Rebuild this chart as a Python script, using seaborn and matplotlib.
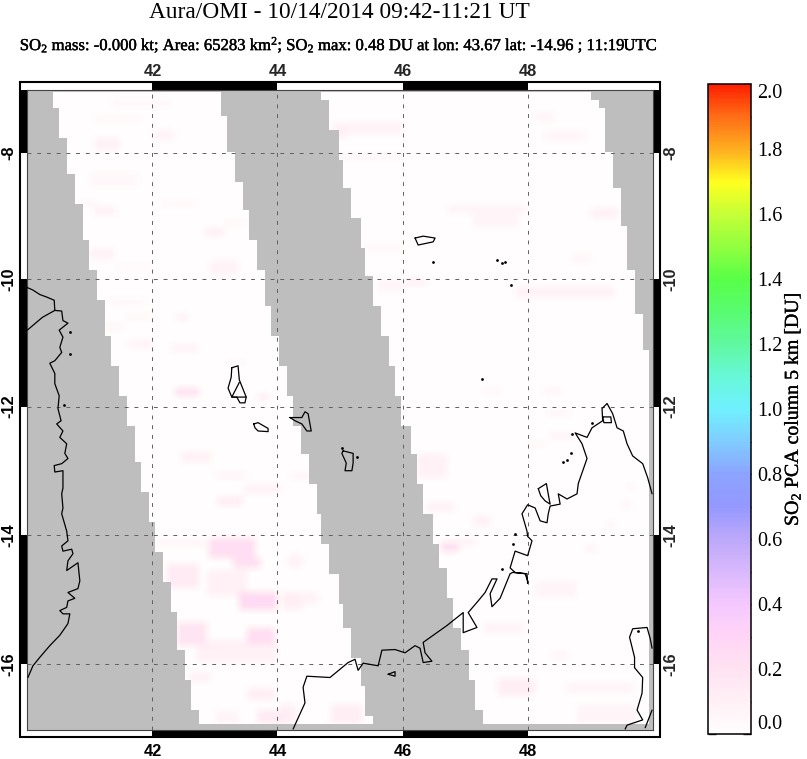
import numpy as np
import seaborn as sns
import matplotlib
matplotlib.use('Agg')
import matplotlib.pyplot as plt
import matplotlib.patheffects as pe
from matplotlib.colors import LinearSegmentedColormap
from matplotlib.patches import Rectangle

# ---------- text ----------
title_text = "Aura/OMI - 10/14/2014 09:42-11:21 UT"
sub_text = ("SO$_2$ mass: -0.000 kt; Area: 65283 km$^2$; SO$_2$ max: 0.48 DU "
            "at lon: 43.67 lat: -14.96 ; 11:19UTC")
cbar_label = "SO$_2$ PCA column 5 km [DU]"
lon_ticks = [42, 44, 46, 48]
lat_ticks = [-8, -10, -12, -14, -16]
cbar_ticks = [0.0, 0.2, 0.4, 0.6, 0.8, 1.0, 1.2, 1.4, 1.6, 1.8, 2.0]
cbar_minor = [0.1, 0.3, 0.5, 0.7, 0.9, 1.1, 1.3, 1.5, 1.7, 1.9]

# ---------- swath edges: southern limit of each step and its longitude ----------
s1_left_lat = [-7.28, -7.75, -8.32, -8.80, -9.37, -9.84, -10.31, -10.88, -11.35, -11.83, -12.30,
               -12.86, -13.33, -13.78, -14.26, -14.72, -15.19, -15.77, -16.23, -16.70, -16.91]
s1_left_lon = [40.43, 40.52, 40.65, 40.78, 40.89, 41.00, 41.11, 41.24, 41.35, 41.47, 41.59,
               41.71, 41.82, 41.95, 42.04, 42.17, 42.30, 42.39, 42.52, 42.62, 42.75]
s1_right_lat = [-7.40, -7.97, -8.45, -8.89, -9.37, -9.84, -10.41, -10.88, -11.35, -11.83, -12.30,
                -12.73, -13.19, -13.67, -14.14, -14.60, -15.06, -15.43, -15.89, -16.32, -16.79, -16.91]
s1_right_lon = [43.10, 43.19, 43.32, 43.45, 43.55, 43.67, 43.80, 43.89, 44.02, 44.14, 44.26,
                44.38, 44.49, 44.62, 44.71, 44.84, 44.97, 45.05, 45.19, 45.32, 45.41, 45.54]
s2_left_lat = [-7.15, -7.62, -8.10, -8.54, -9.02, -9.49, -9.94, -10.41, -10.88, -11.35, -11.83,
               -12.30, -12.73, -13.20, -13.67, -14.14, -14.51, -14.97, -15.43, -15.77, -16.23, -16.70, -16.91]
s2_left_lon = [44.71, 44.84, 44.97, 45.06, 45.19, 45.32, 45.41, 45.54, 45.64, 45.77, 45.89,
               45.99, 46.12, 46.22, 46.34, 46.47, 46.57, 46.70, 46.82, 46.92, 47.05, 47.16, 47.29]
s2_right_lat = [-7.15, -7.28, -7.97, -8.54, -9.14, -9.84, -10.55, -11.10, -16.91]
s2_right_lon = [49.01, 49.14, 49.24, 49.36, 49.49, 49.59, 49.72, 49.84, 49.95]
swath_top = -7.04
swath_bottom = -16.91

# ---------- SO2 enhancements ----------
p_lon0 = [42.9, 43.3, 43.4, 43.5, 42.4, 42.23, 42.87, 42.7, 43.5, 43.67, 43.0, 44.1, 44.15, 42.07, 42.6,
          42.38, 42.38, 41.6, 42.3, 43.67, 42.45, 43.05, 43.45, 43.0, 41.25, 41.55, 41.3, 43.15, 44.2,
          41.1, 41.1, 42.0, 41.35, 41.0, 40.85, 41.05, 42.1, 42.85, 43.15, 41.0, 42.9, 41.4, 44.9, 44.9, 45.0, 45.4, 45.6,
          46.7, 47.13, 49.0, 46.0, 47.8, 48.25, 48.1, 48.7,
          46.23, 46.35, 47.13, 46.6, 46.9, 48.9, 49.25, 47.25, 48.25, 48.3, 48.0, 48.35, 49.6, 49.5,
          47.5, 48.6, 48.8, 48.1, 47.3, 48.35, 44.85, 44.05, 44.05]
p_lon1 = [43.65, 43.75, 44.0, 43.95, 42.87, 42.75, 43.5, 44.0, 43.95, 44.15, 43.4, 44.4, 44.4, 42.87, 42.95,
          42.75, 42.6, 42.0, 42.75, 43.88, 42.95, 43.45, 44.1, 43.5, 41.55, 42.0, 41.9, 43.5, 44.6,
          41.48, 41.85, 42.35, 42.3, 41.8, 41.1, 41.45, 42.7, 43.15, 43.5, 41.4, 43.4, 42.0, 46.0, 45.1, 46.0, 46.0, 46.0,
          48.0, 47.87, 49.47, 46.4, 49.4, 48.95, 48.45, 49.0,
          46.7, 46.85, 47.4, 46.9, 47.2, 49.1, 49.4, 47.6, 48.55, 48.7, 48.3, 48.75, 49.7, 49.65,
          48.1, 49.7, 49.75, 48.8, 47.95, 48.7, 45.37, 44.65, 44.3]
p_lat0 = [-14.05, -14.35, -14.87, -15.42, -15.33, -14.45, -14.55, -15.63, -16.35, -16.7, -16.7, -14.87, -14.3, -14.05, -16.1,
          -11.7, -10.53, -10.96, -11.0, -11.8, -12.7, -13.4, -13.2, -13.0, -10.7, -10.55, -10.3, -11.25, -13.0,
          -7.75, -7.42, -7.65, -7.12, -8.3, -8.75, -8.85, -8.75, -9.2, -9.05, -9.5, -9.7, -9.75, -7.5, -7.6, -8.0, -9.45, -10.0,
          -8.82, -8.95, -8.87, -10.0, -10.1, -7.65, -7.35, -9.6,
          -12.73, -13.47, -13.7, -14.1, -14.03, -14.15, -13.78, -11.7, -11.7, -12.05, -12.55, -12.4, -13.2, -13.45,
          -16.2, -16.25, -16.6, -14.7, -15.33, -15.8, -16.6, -14.87, -16.6]
p_lat1 = [-14.35, -14.5, -15.17, -15.67, -15.72, -14.82, -14.95, -15.95, -16.55, -16.9, -16.9, -15.15, -14.5, -14.15, -16.25,
          -11.83, -10.65, -11.06, -11.15, -11.9, -12.85, -13.55, -13.35, -13.1, -10.8, -10.65, -10.4, -11.32, -13.15,
          -7.95, -7.5, -7.78, -7.28, -8.55, -8.85, -9.0, -8.85, -9.3, -9.15, -9.7, -9.95, -9.85, -7.7, -7.75, -8.1, -9.55, -10.2,
          -8.95, -9.17, -9.02, -10.08, -10.28, -7.82, -7.5, -9.75,
          -13.1, -13.65, -13.85, -14.25, -14.15, -14.25, -13.9, -11.8, -11.8, -12.15, -12.62, -12.5, -13.3, -13.6,
          -16.47, -16.45, -16.9, -14.97, -15.53, -15.9, -16.9, -15.07, -16.9]
p_val = [0.24, 0.22, 0.26, 0.24, 0.18, 0.14, 0.10, 0.10, 0.12, 0.14, 0.07, 0.11, 0.08, 0.06, 0.09,
         0.22, 0.12, 0.08, 0.08, 0.14, 0.10, 0.12, 0.08, 0.08, 0.08, 0.06, 0.05, 0.06, 0.06,
         0.10, 0.06, 0.08, 0.04, 0.04, 0.07, 0.08, 0.06, 0.12, 0.06, 0.08, 0.08, 0.05, 0.08, 0.11, 0.07, 0.06, 0.07,
         0.07, 0.07, 0.10, 0.16, 0.08, 0.06, 0.07, 0.06,
         0.10, 0.08, 0.10, 0.22, 0.08, 0.10, 0.10, 0.06, 0.08, 0.07, 0.08, 0.07, 0.08, 0.06,
         0.11, 0.07, 0.07, 0.07, 0.07, 0.08, 0.11, 0.08, 0.10]

# ---------- coastlines ----------
africa_lon = [40.00, 40.09, 40.20, 40.31, 40.43, 40.44, 40.55, 40.57, 40.65, 40.51, 40.57, 40.52, 40.55, 40.44, 40.36,
              40.44, 40.44, 40.51, 40.49, 40.54, 40.47, 40.57, 40.52, 40.63, 40.60, 40.65, 40.55, 40.43, 40.44, 40.57,
              40.57, 40.55, 40.57, 40.55, 40.63, 40.65, 40.55, 40.57, 40.71, 40.73, 40.65, 40.63, 40.81, 40.84, 40.81,
              40.65, 40.76, 40.65, 40.63, 40.52, 40.57, 40.68, 40.65, 40.52, 40.36, 40.20, 40.09, 40.01]
africa_lat = [-10.13, -10.17, -10.24, -10.28, -10.33, -10.49, -10.50, -10.65, -10.69, -10.80, -10.91, -11.07, -11.15, -11.28, -11.32,
              -11.48, -11.64, -11.83, -12.03, -12.22, -12.27, -12.38, -12.48, -12.58, -12.73, -12.81, -12.89, -12.92, -13.02, -13.00,
              -13.27, -13.36, -13.58, -13.67, -13.94, -14.09, -14.17, -14.25, -14.22, -14.29, -14.40, -14.55, -14.43, -14.71, -14.83,
              -14.89, -14.98, -15.02, -15.12, -15.17, -15.22, -15.22, -15.37, -15.55, -15.71, -15.89, -16.02, -16.20]
border_lon = [40.44, 40.24, 40.00]
border_lat = [-10.49, -10.60, -10.80]
grande_lon = [43.27, 43.37, 43.39, 43.50, 43.48, 43.40, 43.35, 43.27, 43.21, 43.26, 43.27]
grande_lat = [-11.39, -11.36, -11.58, -11.85, -11.94, -11.94, -11.85, -11.85, -11.71, -11.54, -11.39]
inner_lon = [43.39, 43.27, 43.50]
inner_lat = [-11.62, -11.85, -11.85]
moheli_lon = [43.62, 43.69, 43.85, 43.85, 43.69, 43.64, 43.62]
moheli_lat = [-12.27, -12.25, -12.34, -12.39, -12.38, -12.33, -12.27]
anjouan_lon = [44.20, 44.39, 44.44, 44.49, 44.54, 44.47, 44.39, 44.28, 44.20]
anjouan_lat = [-12.17, -12.17, -12.08, -12.11, -12.38, -12.38, -12.27, -12.22, -12.17]
mayotte_lon = [45.05, 45.21, 45.21, 45.19, 45.08, 45.10, 45.03, 45.05]
mayotte_lat = [-12.69, -12.73, -12.88, -13.00, -13.00, -12.88, -12.73, -12.69]
aldabra_lon = [46.20, 46.33, 46.52, 46.49, 46.25, 46.20]
aldabra_lat = [-9.35, -9.32, -9.35, -9.41, -9.46, -9.35]
madag_lon = [49.99, 49.92, 49.84, 49.68, 49.59, 49.53, 49.43, 49.36, 49.27, 49.19, 49.20, 49.03, 48.95, 48.76, 48.87,
             48.95, 48.81, 48.79, 48.63, 48.49, 48.52, 48.36, 48.33, 48.31, 48.20, 48.12, 48.00, 47.91, 47.99, 48.00,
             48.07, 48.00, 47.80, 47.72, 47.80, 47.96, 48.00, 48.00, 47.99, 47.76, 47.72, 47.56, 47.43, 47.40, 47.51,
             47.43, 47.32, 47.21, 47.05, 47.19, 46.97, 46.97, 46.71, 46.33, 46.36, 46.47, 46.33, 46.28, 46.20, 46.04,
             45.88, 45.67, 45.61, 45.37, 45.29, 45.24, 45.13, 44.84, 44.47, 44.41, 44.44, 44.25]
madag_lat = [-13.36, -13.11, -12.89, -12.77, -12.58, -12.38, -12.33, -12.11, -11.95, -12.03, -12.22, -12.33, -12.48, -12.41, -12.58,
             -12.81, -13.20, -13.36, -13.44, -13.36, -13.52, -13.55, -13.67, -13.81, -13.78, -13.58, -13.53, -13.67, -13.94, -14.02,
             -14.09, -14.32, -14.25, -14.51, -14.58, -14.60, -14.71, -14.75, -14.60, -14.58, -14.60, -14.98, -15.11, -14.91, -14.68,
             -14.68, -14.89, -15.02, -15.20, -15.43, -15.51, -15.20, -15.40, -15.66, -15.82, -15.95, -15.97, -15.75, -15.71, -15.82,
             -15.77, -15.78, -16.02, -15.98, -16.09, -15.92, -15.97, -16.20, -16.18, -16.35, -16.59, -16.99]
ring_lon = [48.17, 48.30, 48.34, 48.36, 48.28, 48.21, 48.17]
ring_lat = [-13.28, -13.20, -13.42, -13.52, -13.47, -13.39, -13.28]
tip_lon = [49.20, 49.33, 49.34, 49.22, 49.20]
tip_lat = [-12.16, -12.16, -12.25, -12.25, -12.16]
nosy_lon = [45.77, 45.88, 45.88, 45.77]
nosy_lat = [-16.15, -16.11, -16.18, -16.15]
east_lon = [49.99, 49.96, 49.91, 49.68, 49.63, 49.71, 49.71, 49.84, 49.83, 49.75, 49.84, 49.59, 49.56]
east_lat = [-15.75, -15.60, -15.43, -15.45, -15.58, -15.89, -16.05, -16.20, -16.44, -16.70, -16.85, -16.93, -16.99]
east2_lon = [49.99, 49.88]
east2_lat = [-16.70, -16.97]
dots_lon = [45.03, 45.27, 46.49, 47.51, 47.59, 47.64, 47.73, 47.27, 48.57, 48.63, 48.70, 48.71, 49.03,
            47.80, 47.76, 47.59, 40.68, 40.68, 40.59, 49.76]
dots_lat = [-12.64, -12.78, -9.73, -9.70, -9.75, -9.73, -10.09, -11.56, -12.87, -12.84, -12.73, -12.42, -12.25,
            -13.98, -14.14, -14.52, -10.83, -11.17, -11.98, -15.48]

# ---------- colour scale ----------
cs_val = [0.0, 0.1, 0.2, 0.3, 0.4, 0.5, 0.6, 0.7, 0.8, 0.9, 1.0, 1.1, 1.2, 1.3, 1.4, 1.5, 1.6, 1.7, 1.8, 1.9, 2.0]
cs_col = ['#FFFDFD', '#FFF0F5', '#FFE2F2', '#FFD4F6', '#F4C8FF', '#D8B8FC', '#BCA8FA', '#9498FF', '#8CA4FF',
          '#80CCFF', '#70F0FF', '#68F8D8', '#60F8A0', '#58FC70', '#58FF48', '#90FF40', '#C4FF38',
          '#FFFF20', '#FFB020', '#FF7018', '#FF2000']

W, H = 807, 759
sns.set_theme(style='white')
plt.rcParams['font.family'] = ['Liberation Serif', 'DejaVu Sans']
plt.rcParams['mathtext.fontset'] = 'custom'
plt.rcParams['mathtext.rm'] = 'Liberation Serif'
plt.rcParams['mathtext.it'] = 'Liberation Serif'
plt.rcParams['mathtext.bf'] = 'Liberation Serif:bold'

nx, ny = 313, 320
lon_min, lon_max, lat_top, lat_bot = 40.0, 50.0, -7.0, -17.0


def merc(lat):
    return np.log(np.tan(np.pi / 4 + np.radians(lat) / 2))


def to_x(lon):
    return (np.asarray(lon, float) - lon_min) / (lon_max - lon_min) * nx


def to_y(lat):
    return (merc(lat_top) - merc(np.asarray(lat, float))) / (merc(lat_top) - merc(lat_bot)) * ny


col_lon = lon_min + (np.arange(nx) + 0.5) / nx * (lon_max - lon_min)
row_idx = np.arange(ny) + 0.5
m_row = merc(lat_top) - row_idx / ny * (merc(lat_top) - merc(lat_bot))
row_lat = np.degrees(2 * (np.arctan(np.exp(m_row)) - np.pi / 4))


def edge(lat_steps, lon_steps):
    i = np.searchsorted(-np.asarray(lat_steps), -row_lat)
    return np.asarray(lon_steps)[np.clip(i, 0, len(lon_steps) - 1)]


grid = np.zeros((ny, nx))
for a, b, c, d, v in zip(p_lon0, p_lon1, p_lat0, p_lat1, p_val):
    sel_c = (col_lon >= a) & (col_lon <= b)
    sel_r = (row_lat <= c) & (row_lat >= d)
    grid[np.ix_(sel_r, sel_c)] = np.maximum(grid[np.ix_(sel_r, sel_c)], v)

# soften the blocks the way the source image's compression does
kernel = np.ones(5) / 5
grid = np.apply_along_axis(lambda r: np.convolve(r, kernel, mode='same'), 1, grid)
grid = np.apply_along_axis(lambda c: np.convolve(c, kernel, mode='same'), 0, grid)

lon2d = np.tile(col_lon, (ny, 1))
in_s1 = (lon2d >= edge(s1_left_lat, s1_left_lon)[:, None]) & (lon2d <= edge(s1_right_lat, s1_right_lon)[:, None])
in_s2 = (lon2d >= edge(s2_left_lat, s2_left_lon)[:, None]) & (lon2d <= edge(s2_right_lat, s2_right_lon)[:, None])
in_rows = ((row_lat <= swath_top) & (row_lat >= swath_bottom))[:, None]
grid[~((in_s1 | in_s2) & in_rows)] = np.nan

cmap = LinearSegmentedColormap.from_list('omi', [(v / 2.0, c) for v, c in zip(cs_val, cs_col)], N=256)

fig = plt.figure(figsize=(W / 100, H / 100), dpi=100, facecolor='white')
L, R, T, B = 27.3, 652.7, 89.6, 729.7
ax = fig.add_axes([L / W, 1 - B / H, (R - L) / W, (B - T) / H])
cax = fig.add_axes([708 / W, 1 - 734 / H, 42.5 / W, 650 / H])
sns.heatmap(grid, ax=ax, cbar_ax=cax, cmap=cmap, vmin=0, vmax=2, xticklabels=False, yticklabels=False,
            cbar_kws={'ticks': cbar_ticks})
ax.set_facecolor('#BEBEBE')

# graticule
for lon in lon_ticks:
    ax.axvline(to_x(lon), color='#606060', lw=0.7, dashes=(4, 6), zorder=3)
for lat in lat_ticks:
    ax.axhline(to_y(lat), color='#606060', lw=0.7, dashes=(4, 6), zorder=3)

# coasts
lines = [(africa_lon, africa_lat), (border_lon, border_lat), (grande_lon, grande_lat), (inner_lon, inner_lat),
         (moheli_lon, moheli_lat), (anjouan_lon, anjouan_lat), (mayotte_lon, mayotte_lat), (aldabra_lon, aldabra_lat),
         (madag_lon, madag_lat), (ring_lon, ring_lat), (tip_lon, tip_lat), (nosy_lon, nosy_lat),
         (east_lon, east_lat), (east2_lon, east2_lat)]
for xs, ys in lines:
    ax.plot(to_x(xs), to_y(ys), color='black', lw=0.9, zorder=4, solid_joinstyle='round')
ax.scatter(to_x(dots_lon), to_y(dots_lat), s=4, color='black', linewidths=0, zorder=4)

# axis ticks
tfont = dict(family='Liberation Sans', weight='bold', size=11.8)
ax.set_xticks(to_x(lon_ticks))
ax.set_xticklabels([str(v) for v in lon_ticks], **tfont)
ax.set_yticks(to_y(lat_ticks))
ax.set_yticklabels([str(v) for v in lat_ticks], rotation=90, va='center', **tfont)
ax.tick_params(axis='x', bottom=True, top=False, labelbottom=True, length=0, pad=10.5, labelcolor='black')
ax.tick_params(axis='y', left=True, right=False, labelleft=True, length=0, pad=8, labelcolor='black')
for lon in lon_ticks:
    ax.text(to_x(lon), -((T - 71.5) / (B - T)) * ny, str(lon), ha='center', va='center', clip_on=False, **tfont)
for lat in lat_ticks:
    ax.text(1 + 18.5 / (R - L), to_y(lat), str(lat), rotation=90, ha='center', va='center',
            transform=ax.get_yaxis_transform(), clip_on=False, **tfont)

# map border with alternating bars
for s in ax.spines.values():
    s.set_visible(True)
    s.set_color('#444444')
    s.set_linewidth(0.8)
tx = ax.get_xaxis_transform()
ty = ax.get_yaxis_transform()
fx, fy = 7.4 / (R - L), 7.6 / (B - T)
for a, b in zip([42, 46], [44, 48]):
    for y0 in (1.0, -fy):
        ax.add_patch(Rectangle((to_x(a), y0), to_x(b) - to_x(a), fy, transform=tx, color='black', lw=0, clip_on=False))
lat_edges = [lat_top, -8, -10, -12, -14, -16, lat_bot]
for a, b, blk in zip(lat_edges[:-1], lat_edges[1:], [1, 0, 1, 0, 1, 0]):
    if blk:
        for x0 in (-fx, 1.0):
            ax.add_patch(Rectangle((x0, to_y(a)), fx, to_y(b) - to_y(a), transform=ty, color='black', lw=0, clip_on=False))
ax.add_patch(Rectangle((-fx, -fy), 1 + 2 * fx, 1 + 2 * fy, transform=ax.transAxes, fill=False, ec='black', lw=1.5, clip_on=False))

# colour bar
cbar = ax.collections[0].colorbar
cbar.outline.set_visible(True)
cbar.outline.set_edgecolor('black')
cbar.outline.set_linewidth(1.1)
cax.set_yticks(cbar_ticks)
cax.set_yticklabels(['%.1f' % v for v in cbar_ticks], fontsize=14.5, family='Liberation Serif', color='black')
cax.set_yticks(cbar_minor, minor=True)
cax.tick_params(axis='y', which='major', direction='in', left=True, right=True, length=6, width=1, color='#222222', pad=5)
cax.tick_params(axis='y', which='minor', direction='in', left=True, right=True, length=3, width=1, color='#222222')
labs = cax.get_yticklabels()
labs[0].set_verticalalignment('bottom')
labs[-1].set_verticalalignment('top')
fig.text(793 / W, 1 - 409 / H, cbar_label, rotation=90, ha='center', va='center', fontsize=14.3, color='black',
         path_effects=[pe.withStroke(linewidth=0.25, foreground='black')])

# titles
fig.text(339.5 / W, 1 - 12 / H, title_text, ha='center', va='center', fontsize=16.85, color='black')
fig.text(338 / W, 1 - 45 / H, sub_text, ha='center', va='center', fontsize=12.0, color='black',
         path_effects=[pe.withStroke(linewidth=0.3, foreground='black')])

fig.savefig('out.png', dpi=100, facecolor='white')
